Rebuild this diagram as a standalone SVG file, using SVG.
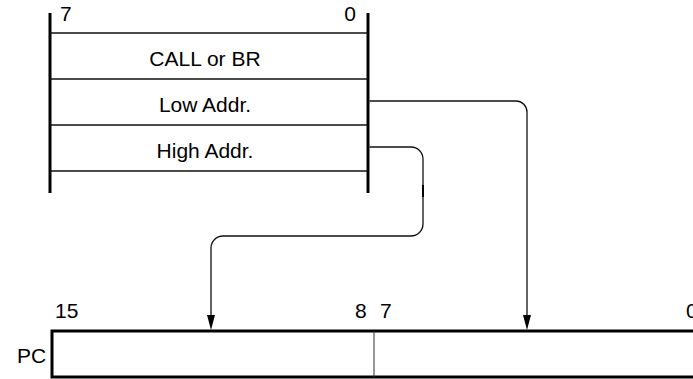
<svg xmlns="http://www.w3.org/2000/svg" width="693" height="379" viewBox="0 0 693 379">
<style>
text{font-family:"Liberation Sans",Arial,sans-serif;font-size:21px;fill:#000}
.bar{stroke:#000;stroke-width:3;fill:none}
.row{stroke:#111;stroke-width:1.3;fill:none}
.conn{stroke:#111;stroke-width:1.3;fill:none}
.pc{stroke:#000;stroke-width:3;fill:#fff}
.div{stroke:#333;stroke-width:1;fill:none}
.head{fill:#000}
</style>
<g id="memory">
<line class="bar" x1="50" y1="13" x2="50" y2="193"/>
<line class="bar" x1="368" y1="13" x2="368" y2="193"/>
<line class="row" x1="50" y1="33" x2="368" y2="33"/>
<line class="row" x1="50" y1="79" x2="368" y2="79"/>
<line class="row" x1="50" y1="125" x2="368" y2="125"/>
<line class="row" x1="50" y1="171" x2="368" y2="171"/>
<text x="60" y="21">7</text>
<text x="356" y="21" text-anchor="end">0</text>
<text x="205" y="66" text-anchor="middle">CALL or BR</text>
<text x="205" y="112" text-anchor="middle">Low Addr.</text>
<text x="205" y="158" text-anchor="middle">High Addr.</text>
</g>
<g id="pc">
<rect class="pc" x="52" y="331" width="660" height="46"/>
<line class="div" x1="374" y1="331" x2="374" y2="377"/>
<text x="17" y="363">PC</text>
<text x="55" y="318">15</text>
<text x="355" y="318">8</text>
<text x="380" y="318">7</text>
<text x="686" y="318">0</text>
</g>
<g id="connectors">
<path class="conn" d="M369.5,101 H516 A11,11 0 0 1 527,112 V315" />
<path class="head" d="M523,315 L531,315 L527,330 Z"/>
<path class="conn" d="M369.5,147 H411 A12,12 0 0 1 423,159 V224 A12,12 0 0 1 411,236 H223 A12,12 0 0 0 211,248 V315" />
<path class="head" d="M207,315 L215,315 L211,330 Z"/>
<line stroke="#000" stroke-width="2" x1="423" y1="185" x2="423" y2="197"/>
</g>
</svg>
